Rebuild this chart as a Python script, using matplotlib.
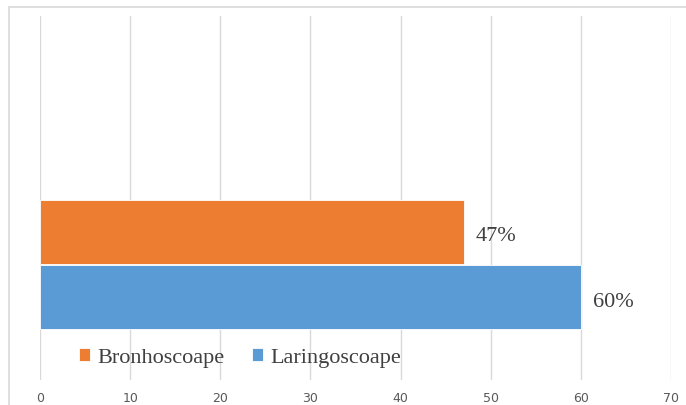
import matplotlib.pyplot as plt
from matplotlib.patches import Rectangle

series = ['Bronhoscoape', 'Laringoscoape']
values = [47, 60]
labels = ['47%', '60%']
colors = ['#ED7D31', '#5B9BD5']
ticks = [0, 10, 20, 30, 40, 50, 60, 70]

W, H = 686, 406
fig = plt.figure(figsize=(W / 100, H / 100), dpi=100)

# light chart border (top/left visible, rest cut off)
fig.patches.append(Rectangle((9 / W, -0.1), 1.2, 1 - 7.5 / H + 0.1,
                             transform=fig.transFigure, fill=False,
                             edgecolor='#d9d9d9', linewidth=1.2))

ax = fig.add_axes([40 / W, 1 - 381 / H, (671 - 40) / W, (381 - 17) / H])

ypos = [2.32, 1.29]
for name, v, lab, c, y in zip(series, values, labels, colors, ypos):
    ax.barh(y, v, height=1.0, color=c, edgecolor='white', linewidth=0.6,
            label=name, zorder=2)
    ax.text(v + 1.3, y - 0.06, lab, va='center', ha='left', fontsize=16,
            family='Liberation Serif', color='#404040')

ax.set_xlim(0, 70)
ax.set_ylim(0, 5.69)
ax.set_xticks(ticks)
ax.set_yticks([])
ax.grid(axis='x', color='#d9d9d9', linewidth=1, zorder=0)
ax.tick_params(axis='x', length=0, pad=8, labelsize=9, labelcolor='#595959')
for s in ax.spines.values():
    s.set_visible(False)

leg = ax.legend(loc='lower left', bbox_to_anchor=(0.03, -0.02), ncol=2,
                frameon=False, handlelength=0.5, handleheight=0.5,
                handletextpad=0.35, columnspacing=1.2,
                prop={'family': 'Liberation Serif', 'size': 16})
for t in leg.get_texts():
    t.set_color('#404040')

fig.savefig('out.png', dpi=100)
